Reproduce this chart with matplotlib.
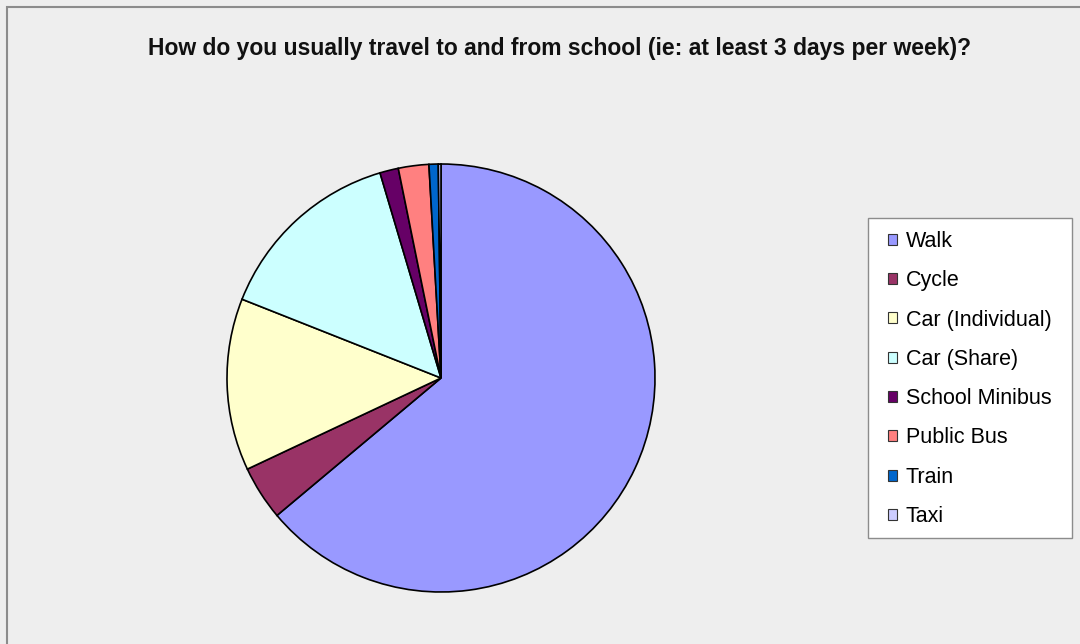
import matplotlib
matplotlib.use("Agg")
import matplotlib.pyplot as plt
from matplotlib.patches import Patch, Rectangle

# share of pupils per travel mode (%)
modes = ['Walk', 'Cycle', 'Car (Individual)', 'Car (Share)',
         'School Minibus', 'Public Bus', 'Train', 'Taxi']
shares = [63.9, 4.1, 13.0, 14.4, 1.4, 2.3, 0.7, 0.2]
colours = ['#9999FF', '#993366', '#FFFFCC', '#CCFFFF',
           '#660066', '#FF8080', '#0066CC', '#CCCCFF']

title = 'How do you usually travel to and from school (ie: at least 3 days per week)?'

plt.rcParams['font.family'] = ['Liberation Sans', 'DejaVu Sans']

W, H = 1080, 644
fig = plt.figure(figsize=(W / 100, H / 100), dpi=100)
fig.patch.set_facecolor('#EEEEEE')

# outer chart frame (only left and top edges are visible in the crop)
fig.patches.append(Rectangle((7 / W, -0.1), 2, 1 - 7 / H + 0.1,
                             transform=fig.transFigure, fill=False,
                             edgecolor='#8C8C8C', linewidth=1.5))

# pie centred at (441, 378) px, radius ~214 px
ax = fig.add_axes([227 / W, 1 - 592 / H, 428 / W, 428 / H])
ax.pie(shares, colors=colours, startangle=90, counterclock=False, radius=1,
       wedgeprops=dict(edgecolor='black', linewidth=1.2))
ax.set_xlim(-1.0, 1.0)
ax.set_ylim(-1.0, 1.0)
ax.axis('off')

fig.text(560 / W, 1 - 48 / H, title, ha='center', va='center',
         fontsize=16.5, fontweight='bold', color='#111111')

# legend box drawn by hand so the padding matches
fig.patches.append(Rectangle((868 / W, 1 - 538 / H), 204 / W, 320 / H,
                             transform=fig.transFigure, facecolor='white',
                             edgecolor='#8C8C8C', linewidth=1.0))

handles = [Patch(facecolor=c, edgecolor='#333333', linewidth=0.8) for c in colours]
leg = fig.legend(handles, modes, loc='upper left',
                 bbox_to_anchor=(888 / W, 1 - 231 / H), borderaxespad=0,
                 frameon=False, fontsize=15.5,
                 handlelength=0.42, handleheight=0.42, handletextpad=0.4,
                 labelspacing=0.85, borderpad=0)

fig.savefig('out.png', dpi=100, facecolor=fig.get_facecolor())
